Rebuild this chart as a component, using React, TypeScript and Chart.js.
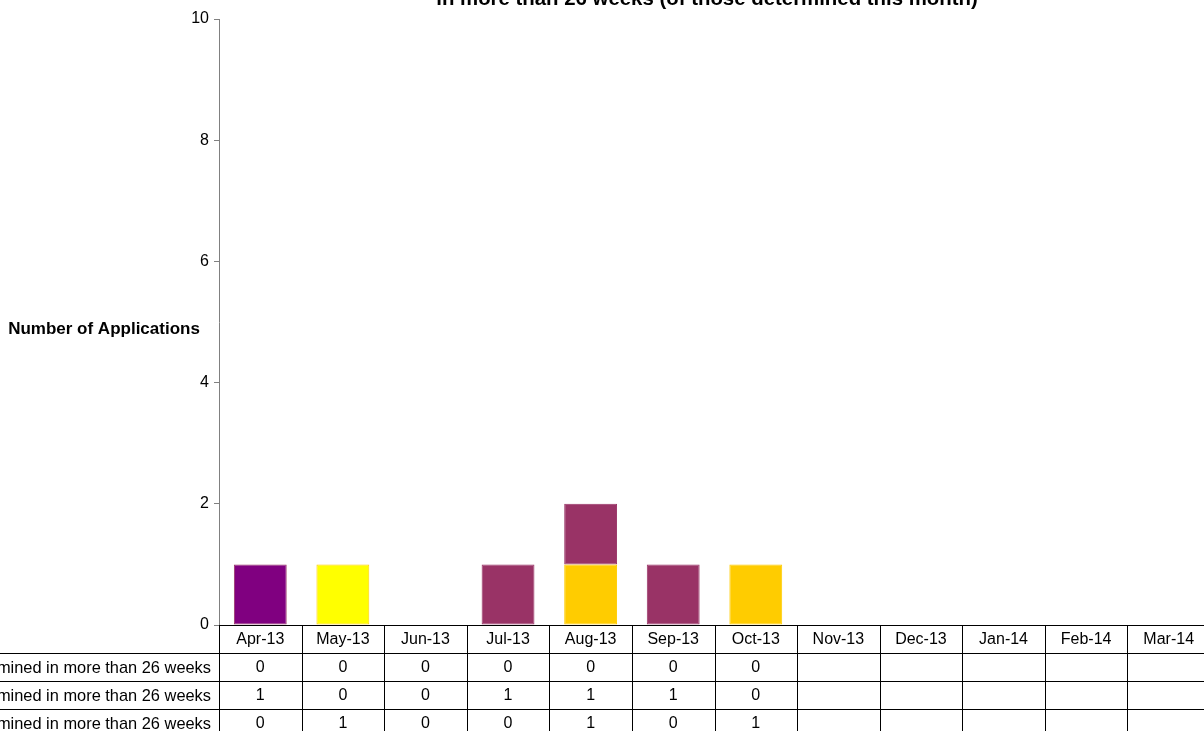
import React, { useEffect, useRef } from "react";
import { Chart, registerables } from "chart.js";

Chart.register(...registerables);

const categories = ["Apr-13", "May-13", "Jun-13", "Jul-13", "Aug-13", "Sep-13", "Oct-13", "Nov-13", "Dec-13", "Jan-14", "Feb-14", "Mar-14"];
const seriesNames = [
  "Major applications determined in more than 26 weeks",
  "Minor applications determined in more than 26 weeks",
  "Other applications determined in more than 26 weeks",
];
const majorValues: (number | null)[] = [0, 0, 0, 0, 0, 0, 0, null, null, null, null, null];
const minorValues: (number | null)[] = [1, 0, 0, 1, 1, 1, 0, null, null, null, null, null];
const otherValues: (number | null)[] = [0, 1, 0, 0, 1, 0, 1, null, null, null, null, null];
const yTicks = [0, 2, 4, 6, 8, 10];
const titleLines = ["Number of applications determined", "in more than 26 weeks (of those determined this month)"];
const yAxisTitle = "Number of Applications";

const FONT = "'Liberation Sans', Arial, sans-serif";

const tablePlugin = {
  id: "tablePlugin",
  afterDraw(chart: any) {
    const ctx = chart.ctx;
    const x = chart.scales.x;
    const area = chart.chartArea;
    const n = categories.length;
    const cw = (x.right - x.left) / n;
    const top = area.bottom;
    const headerH = 28;
    const rowH = 28;
    const rows = [majorValues, minorValues, otherValues];
    const bottom = top + headerH + rowH * rows.length;
    ctx.save();
    ctx.strokeStyle = "#000000";
    ctx.lineWidth = 1;
    for (let r = 0; r < rows.length; r++) {
      const yy = Math.round(top + headerH + rowH * r) + 0.5;
      ctx.beginPath();
      ctx.moveTo(0, yy);
      ctx.lineTo(chart.width, yy);
      ctx.stroke();
    }
    for (let i = 0; i <= n; i++) {
      const xx = Math.round(x.left + cw * i) + 0.5;
      ctx.beginPath();
      ctx.moveTo(xx, top);
      ctx.lineTo(xx, bottom);
      ctx.stroke();
    }
    ctx.fillStyle = "#000000";
    ctx.font = `16px ${FONT}`;
    ctx.textAlign = "center";
    ctx.textBaseline = "middle";
    categories.forEach((c, i) => {
      ctx.fillText(c, x.getPixelForValue(i), top + headerH / 2 + 1);
    });
    rows.forEach((row, r) => {
      const cy = top + headerH + rowH * r + rowH / 2 + 1;
      row.forEach((v, i) => {
        if (v !== null && v !== undefined) ctx.fillText(String(v), x.getPixelForValue(i), cy);
      });
    });
    ctx.textAlign = "right";
    ctx.font = `16.4px ${FONT}`;
    seriesNames.forEach((s, r) => {
      const cy = top + headerH + rowH * r + rowH / 2 + 1;
      ctx.fillText(s, x.left - 8, cy);
    });
    ctx.font = `bold 17px ${FONT}`;
    ctx.textAlign = "center";
    ctx.fillText(yAxisTitle, 104, 329);
    ctx.font = `bold 20.4px ${FONT}`;
    ctx.textBaseline = "alphabetic";
    ctx.fillText(titleLines[0], 707, -18);
    ctx.fillText(titleLines[1], 707, 5);
    ctx.restore();
  },
};

export default function App() {
  const ref = useRef<HTMLCanvasElement | null>(null);
  useEffect(() => {
    if (!ref.current) return;
    const toBar = (arr: (number | null)[]) => arr.map((v) => (v === 0 ? null : v));
    const chart = new Chart(ref.current, {
      type: "bar",
      data: {
        labels: categories,
        datasets: [
          {
            label: seriesNames[0],
            data: toBar(majorValues),
            backgroundColor: "#800080",
            borderColor: "#800080",
            borderWidth: 1,
          },
          {
            label: seriesNames[2],
            data: toBar(otherValues),
            backgroundColor: otherValues.map((_, i) => (i === 1 ? "#FFFF00" : "#FFCC00")),
            borderColor: "#FFCC00",
            borderWidth: 1,
          },
          {
            label: seriesNames[1],
            data: toBar(minorValues),
            backgroundColor: minorValues.map((_, i) => (i === 0 ? "#800080" : "#993366")),
            borderColor: "#993366",
            borderWidth: 1,
          },
        ],
      },
      options: {
        animation: false,
        responsive: false,
        devicePixelRatio: 1,
        layout: { padding: { top: 19, left: 0, right: 10, bottom: 0 } },
        plugins: { legend: { display: false }, title: { display: false }, tooltip: { enabled: false } },
        datasets: { bar: { categoryPercentage: 1, barPercentage: 0.64, borderSkipped: false } },
        scales: {
          x: {
            stacked: true,
            ticks: { display: false },
            grid: { display: false },
            border: { display: true, color: "#000000" },
            afterFit: (s: any) => {
              s.height = 106;
            },
          },
          y: {
            stacked: true,
            min: 0,
            max: 10,
            afterBuildTicks: (s: any) => {
              s.ticks = yTicks.map((v) => ({ value: v }));
            },
            ticks: { color: "#000000", font: { family: FONT, size: 16 }, padding: 5 },
            grid: { drawOnChartArea: false, drawTicks: true, tickLength: 5, color: "#808080" },
            border: { display: true, color: "#808080" },
            afterFit: (s: any) => {
              s.width = 219;
            },
          },
        },
      },
      plugins: [tablePlugin],
    });
    return () => chart.destroy();
  }, []);
  return (
    <div style={{ position: "fixed", left: 0, top: 0, width: 1204, height: 731, overflow: "hidden", background: "#fff" }}>
      <canvas ref={ref} width={1220} height={731} style={{ display: "block" }} />
    </div>
  );
}
